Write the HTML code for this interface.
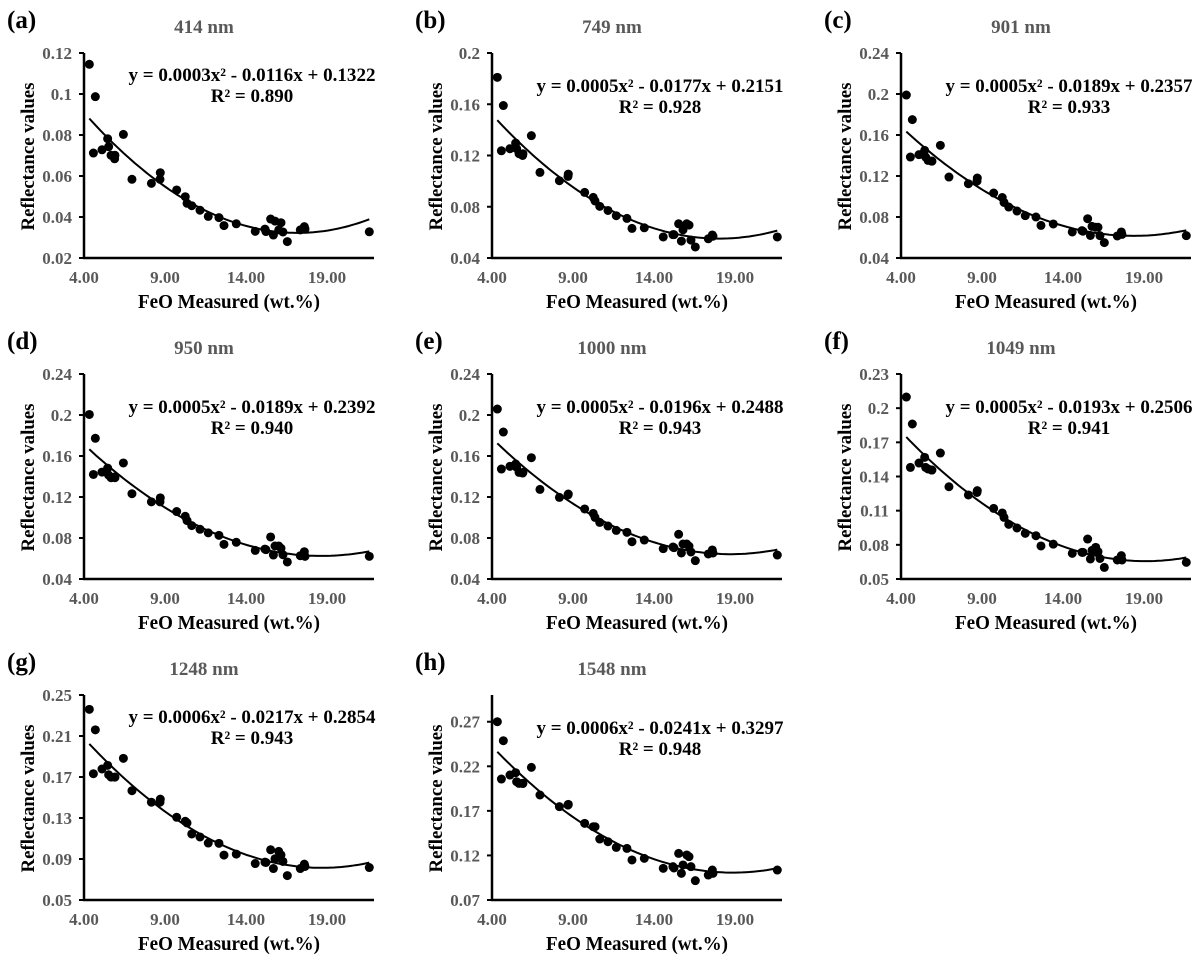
<!DOCTYPE html>
<html><head><meta charset="utf-8"><style>
html,body{margin:0;padding:0;background:#fff;}
svg{display:block;font-family:"Liberation Serif",serif;font-weight:bold;}
</style></head><body>
<svg id="fig" width="1200" height="958" viewBox="0 0 1200 958" xmlns="http://www.w3.org/2000/svg"></svg>
<script>
// Shared FeO measured values (wt.%)
const feo = [4.33,4.70,4.58,5.11,5.46,5.52,5.67,5.91,5.89,6.43,6.96,8.16,8.69,8.71,9.72,10.25,10.36,10.65,11.16,11.67,12.33,12.64,13.40,14.57,15.17,15.23,15.52,15.79,15.69,16.02,16.16,16.28,16.55,17.35,17.60,17.64,21.61];
// Reflectance values per wavelength
const r414 = [0.1145,0.0987,0.0712,0.0728,0.0782,0.0743,0.0701,0.0701,0.0684,0.0803,0.0584,0.0564,0.0584,0.0616,0.0532,0.0499,0.0467,0.0455,0.0433,0.0403,0.0397,0.0358,0.0367,0.0330,0.0341,0.0329,0.0390,0.0380,0.0312,0.0337,0.0372,0.0327,0.0280,0.0337,0.0353,0.0341,0.0328];
const r749 = [0.181,0.159,0.1237,0.1253,0.1297,0.1253,0.1214,0.1214,0.120,0.1355,0.1068,0.1003,0.1037,0.1055,0.0912,0.0873,0.0845,0.0803,0.0771,0.073,0.0709,0.0631,0.0636,0.0564,0.0582,0.0582,0.0667,0.062,0.0532,0.0667,0.0657,0.054,0.0486,0.055,0.058,0.057,0.0564];
const r901 = [0.199,0.175,0.1385,0.1408,0.145,0.1385,0.1352,0.1345,0.1345,0.1499,0.119,0.1125,0.115,0.118,0.1034,0.099,0.0942,0.0897,0.0858,0.0813,0.080,0.0718,0.0732,0.0654,0.0667,0.0661,0.0783,0.0708,0.062,0.070,0.070,0.0618,0.055,0.0615,0.0654,0.063,0.0618];
const r950 = [0.2005,0.1773,0.142,0.1443,0.1482,0.1414,0.1388,0.1388,0.1395,0.1532,0.1232,0.1153,0.1153,0.1192,0.1058,0.1012,0.097,0.0921,0.0885,0.085,0.0826,0.0738,0.0758,0.0679,0.0692,0.0686,0.081,0.0722,0.0634,0.0722,0.070,0.0637,0.0566,0.0627,0.0666,0.0621,0.0621];
const r1000 = [0.2058,0.1834,0.1473,0.1499,0.1522,0.149,0.144,0.144,0.1434,0.1583,0.1274,0.1196,0.122,0.1229,0.1083,0.104,0.1001,0.0952,0.0917,0.0874,0.0855,0.0764,0.078,0.0696,0.0712,0.0706,0.0836,0.0741,0.0654,0.0741,0.072,0.0664,0.0579,0.0644,0.0683,0.0654,0.0634];
const r1049 = [0.2098,0.1861,0.148,0.1518,0.1568,0.148,0.1466,0.1457,0.1457,0.1606,0.131,0.1238,0.126,0.1276,0.112,0.108,0.1041,0.098,0.0948,0.0901,0.088,0.079,0.0806,0.0725,0.0734,0.0734,0.0851,0.0751,0.0676,0.0778,0.074,0.068,0.0602,0.0667,0.0705,0.0667,0.0646];
const r1248 = [0.236,0.216,0.1732,0.1778,0.1814,0.1722,0.1699,0.1699,0.1699,0.1882,0.1566,0.1454,0.1454,0.1484,0.1307,0.1268,0.1252,0.1144,0.1115,0.1056,0.1053,0.0938,0.0948,0.0856,0.0869,0.0866,0.099,0.0902,0.0807,0.0974,0.094,0.0876,0.0738,0.0807,0.085,0.0827,0.0817];
const r1548 = [0.27,0.2487,0.2057,0.2102,0.2128,0.2027,0.2008,0.2008,0.2008,0.2188,0.1878,0.1747,0.1765,0.1773,0.156,0.1522,0.1522,0.1384,0.1354,0.129,0.1279,0.1149,0.1167,0.1055,0.1074,0.1059,0.1223,0.1093,0.0999,0.1205,0.1186,0.1074,0.0917,0.098,0.1036,0.0999,0.1036];
// Panel labels, titles, equations
const letters = ["(a)","(b)","(c)","(d)","(e)","(f)","(g)","(h)"];
const titles = ["414 nm","749 nm","901 nm","950 nm","1000 nm","1049 nm","1248 nm","1548 nm"];
const equations = ["y = 0.0003x² - 0.0116x + 0.1322","y = 0.0005x² - 0.0177x + 0.2151","y = 0.0005x² - 0.0189x + 0.2357","y = 0.0005x² - 0.0189x + 0.2392","y = 0.0005x² - 0.0196x + 0.2488","y = 0.0005x² - 0.0193x + 0.2506","y = 0.0006x² - 0.0217x + 0.2854","y = 0.0006x² - 0.0241x + 0.3297"];
const r2Labels = ["R² = 0.890","R² = 0.928","R² = 0.933","R² = 0.940","R² = 0.943","R² = 0.941","R² = 0.943","R² = 0.948"];
const yMins = [0.02,0.04,0.04,0.04,0.04,0.05,0.05,0.07];
const yMaxs = [0.12,0.20,0.24,0.24,0.24,0.23,0.25,0.30];
const yTickLabels = [["0.02","0.04","0.06","0.08","0.1","0.12"],["0.04","0.08","0.12","0.16","0.2"],["0.04","0.08","0.12","0.16","0.2","0.24"],["0.04","0.08","0.12","0.16","0.2","0.24"],["0.04","0.08","0.12","0.16","0.2","0.24"],["0.05","0.08","0.11","0.14","0.17","0.2","0.23"],["0.05","0.09","0.13","0.17","0.21","0.25"],["0.07","0.12","0.17","0.22","0.27"]];
const xTickLabels = ["4.00","9.00","14.00","19.00"];
const series = [r414,r749,r901,r950,r1000,r1049,r1248,r1548];

const NS="http://www.w3.org/2000/svg";
const svg=document.getElementById('fig');
function mk(tag,attrs,parent){const e=document.createElementNS(NS,tag);for(const k in attrs)e.setAttribute(k,attrs[k]);(parent||svg).appendChild(e);return e;}
function fitQuad(xs,ys){let S=[0,0,0,0,0],T=[0,0,0];for(let i=0;i<xs.length;i++){let p=1;for(let k=0;k<5;k++){S[k]+=p;if(k<3)T[k]+=p*ys[i];p*=xs[i];}}
 const A=[[S[0],S[1],S[2],T[0]],[S[1],S[2],S[3],T[1]],[S[2],S[3],S[4],T[2]]];
 for(let i=0;i<3;i++){for(let j=i+1;j<3;j++){const f=A[j][i]/A[i][i];for(let k=i;k<4;k++)A[j][k]-=f*A[i][k];}}
 const c=[0,0,0];for(let i=2;i>=0;i--){let s=A[i][3];for(let k=i+1;k<3;k++)s-=A[i][k]*c[k];c[i]=s/A[i][i];}return c;}

const axisXs=[84,492,901];
const bottoms=[258,579,900];
const PH=205, PW=290, XMIN=4, XMAX=21.9;
const eqOff=[22,33,33,33,33,33,22,33];

series.forEach((ys,p)=>{
  const col=p%3,row=Math.floor(p/3);
  const ax=axisXs[col], by=bottoms[row], top=by-PH;
  const ymin=yMins[p], ymax=yMaxs[p];
  const sx=v=>ax+(v-XMIN)/(XMAX-XMIN)*PW;
  const sy=v=>by-(v-ymin)/(ymax-ymin)*PH;
  const g=mk('g',{});
  
  
  const lab=mk('text',{x:ax-77,y:top-25,'font-size':25,fill:'#000'},g);lab.textContent=letters[p];
  
  const tt=mk('text',{x:ax+120,y:top-20,'font-size':19,fill:'#595959','text-anchor':'middle'},g);tt.textContent=titles[p];
  
  const ya=mk('line',{x1:ax,y1:top,x2:ax,y2:by,stroke:'#000','stroke-width':2.5},g);
  
  const xa=mk('line',{x1:ax-1,y1:by,x2:ax+PW,y2:by,stroke:'#000','stroke-width':2.5},g);
  
  yTickLabels[p].forEach(t=>{const v=parseFloat(t),y=sy(v);
    mk('line',{x1:ax-5,y1:y,x2:ax,y2:y,stroke:'#000','stroke-width':2},g);
    const e=mk('text',{x:ax-12,y:y+6,'font-size':17,fill:'#595959','text-anchor':'end'},g);e.textContent=t;
    });
  xTickLabels.forEach(t=>{const v=parseFloat(t),x=sx(v);
    const e=mk('text',{x:x,y:by+25,'font-size':17,fill:'#595959','text-anchor':'middle'},g);e.textContent=t;
    });
  const yt=mk('text',{x:0,y:0,'font-size':19,fill:'#000','text-anchor':'middle',textLength:148,lengthAdjust:'spacingAndGlyphs',transform:`translate(${ax-50},${top+PH/2+1}) rotate(-90)`},g);yt.textContent='Reflectance values';
  
  const xt=mk('text',{x:ax+145,y:by+50,'font-size':20,fill:'#000','text-anchor':'middle',textLength:182,lengthAdjust:'spacingAndGlyphs'},g);xt.textContent='FeO Measured (wt.%)';
  
  const c=fitQuad(feo,ys);const x0=Math.min(...feo),x1=Math.max(...feo);let d='';
  for(let i=0;i<=80;i++){const x=x0+(x1-x0)*i/80;const y=c[0]+c[1]*x+c[2]*x*x;d+=(i?'L':'M')+sx(x).toFixed(1)+' '+sy(y).toFixed(1);}
  const tl=mk('path',{d:d,fill:'none',stroke:'#000','stroke-width':2},g);
  
  feo.forEach((x,i)=>{const pt=mk('circle',{cx:sx(x),cy:sy(ys[i]),r:4.5,fill:'#000'},g);
    });
  const eq=mk('text',{x:ax+168,y:top+eqOff[p]+6,'font-size':19,fill:'#000','text-anchor':'middle',textLength:247,lengthAdjust:'spacingAndGlyphs'},g);eq.textContent=equations[p];
  
  const r2=mk('text',{x:ax+168,y:top+eqOff[p]+27,'font-size':19,fill:'#000','text-anchor':'middle'},g);r2.textContent=r2Labels[p];
  
});
</script>
</body></html>
